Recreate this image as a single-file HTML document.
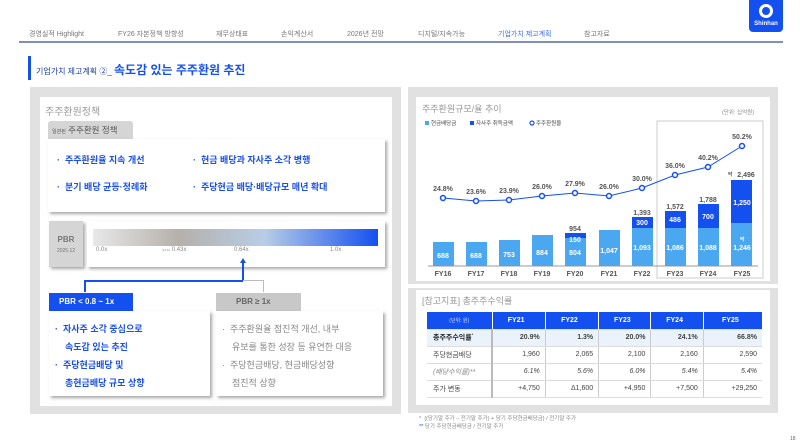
<!DOCTYPE html>
<html><head><meta charset="utf-8"><style>
*{margin:0;padding:0;box-sizing:border-box}
body{width:800px;height:445px;background:#fff;position:relative;overflow:hidden;font-family:"Liberation Sans","Noto Sans CJK KR",sans-serif}
.a{position:absolute}
.nav{font-size:7px;color:#777;top:29px;white-space:nowrap}
.sh{box-shadow:2px 2px 3px rgba(0,0,0,.35)}
.b{color:#1a4fe8;font-weight:bold;font-size:9px}
.g{color:#888;font-size:9px}
table{border-collapse:collapse;font-size:7px}
td{border-bottom:1px solid #ddd;border-right:1px solid #ccc;text-align:right;padding-right:5px;height:17px;color:#444}
td:first-child{text-align:left;padding-left:6px;border-right:2px solid #bbb}
td:last-child{border-right:none}
</style></head><body>
<div class="a nav" style="left:29px">경영실적 Highlight</div>
<div class="a nav" style="left:118px">FY26 자본정책 방향성</div>
<div class="a nav" style="left:216px">재무상태표</div>
<div class="a nav" style="left:281px">손익계산서</div>
<div class="a nav" style="left:347px">2026년 전망</div>
<div class="a nav" style="left:418px">디지털/지속가능</div>
<div class="a nav" style="left:498px;color:#3a6df0">기업가치 제고계획</div>
<div class="a nav" style="left:584px">참고자료</div>
<div class="a" style="left:19px;top:41px;width:764px;height:2px;background:#7f8fb8"></div>
<div class="a" style="left:749px;top:0;width:34px;height:32px;background:#1450f0;border-radius:0 0 4px 4px;color:#fff;font-size:6px;font-weight:bold;text-align:center;padding-top:21px">Shinhan<div class="a" style="left:10px;top:4px;width:14px;height:14px;border-radius:50%;border:3px solid #fff"></div></div>
<div class="a" style="left:28px;top:56px;width:3px;height:24px;background:#1450f0"></div>
<div class="a" style="left:36px;top:61px;font-size:8px;color:#1a3da8;white-space:nowrap">기업가치 제고계획 ②_ <span style="font-size:12px;font-weight:bold;color:#1450f0">속도감 있는 주주환원 추진</span></div>

<!-- left panel -->
<div class="a" style="left:30px;top:87px;width:371px;height:327px;background:#e1e1e1"></div>
<div class="a" style="left:40px;top:97px;width:352px;height:309px;background:#fff"></div>
<div class="a" style="left:45px;top:103px;font-size:10px;color:#999">주주환원정책</div>
<div class="a" style="left:48px;top:121px;width:85px;height:18px;background:#d5d5d5;border-radius:3px 3px 0 0;font-size:8.5px;color:#555;padding:3px 0 0 4px;white-space:nowrap"><span style="font-size:5px">일관된</span> 주주환원 정책</div>
<div class="a sh" style="left:48px;top:139px;width:337px;height:73px;background:#fff"></div>
<div class="a b" style="left:57px;top:153px">·&nbsp; 주주환원율 지속 개선</div>
<div class="a b" style="left:193px;top:153px">·&nbsp; 현금 배당과 자사주 소각 병행</div>
<div class="a b" style="left:57px;top:180px">·&nbsp; 분기 배당 균등·정례화</div>
<div class="a b" style="left:193px;top:180px">·&nbsp; 주당현금 배당·배당규모 매년 확대</div>

<div class="a sh" style="left:49px;top:221px;width:34px;height:46px;background:#d5d5d5;text-align:center;padding-top:14px;font-size:8px;font-weight:bold;color:#777">PBR<div style="font-size:5px;font-weight:normal;margin-top:4px">2025.12</div></div>
<div class="a sh" style="left:87px;top:221px;width:298px;height:46px;background:#fff"></div>
<div class="a" style="left:93px;top:229px;width:285px;height:17px;background:linear-gradient(90deg,#e8e8e8,#b5b0ab 30%,#b8cde6 60%,#1450f0)"></div>
<div class="a" style="left:96px;top:247px;font-size:6px;color:#888">0.0x</div>
<div class="a" style="left:162px;top:247px;font-size:6px;color:#888"><span style="font-size:3px">'24.12</span> 0.43x</div>
<div class="a" style="left:234px;top:247px;font-size:6px;color:#888">0.64x</div>
<div class="a" style="left:330px;top:247px;font-size:6px;color:#888">1.0x</div>
<div class="a" style="left:240px;top:258px;width:0;height:0;border-left:3px solid transparent;border-right:3px solid transparent;border-bottom:5px solid #1450f0"></div>
<div class="a" style="left:242px;top:262px;width:1.5px;height:19px;background:#1450f0"></div>
<div class="a" style="left:84px;top:280px;width:159px;height:1.5px;background:#1450f0"></div>
<div class="a" style="left:84px;top:280px;width:1.5px;height:12px;background:#1450f0"></div>
<div class="a" style="left:243px;top:280px;width:20px;height:1px;background:#bbb"></div>
<div class="a" style="left:263px;top:280px;width:1px;height:12px;background:#bbb"></div>
<div class="a" style="left:49px;top:293px;width:84px;height:18px;background:#1450f0;color:#fff;font-size:8px;font-weight:bold;padding:4px 0 0 10px">PBR &lt; 0.8 ~ 1x</div>
<div class="a" style="left:216px;top:293px;width:85px;height:18px;background:#c8c8c8;color:#666;font-size:8px;font-weight:bold;padding:4px 0 0 20px">PBR ≥ 1x</div>
<div class="a sh" style="left:49px;top:311px;width:161px;height:85px;background:#fff"></div>
<div class="a sh" style="left:216px;top:311px;width:167px;height:85px;background:#fff"></div>
<div class="a b" style="left:55px;top:320px;line-height:18px">·&nbsp; 자사주 소각 중심으로<br>&nbsp;&nbsp;&nbsp; 속도감 있는 추진<br>·&nbsp; 주당현금배당 및<br>&nbsp;&nbsp;&nbsp; 총현금배당 규모 상향</div>
<div class="a g" style="left:222px;top:320px;line-height:18px">·&nbsp; 주주환원율 점진적 개선, 내부<br>&nbsp;&nbsp;&nbsp; 유보를 통한 성장 등 유연한 대응<br>·&nbsp; 주당현금배당, 현금배당성향<br>&nbsp;&nbsp;&nbsp; 점진적 상향</div>

<!-- chart panel -->
<div class="a" style="left:408px;top:87px;width:370px;height:197px;background:#e1e1e1"></div>
<div class="a" style="left:416px;top:97px;width:354px;height:184px;background:#fff"></div>
<div class="a" style="left:422px;top:102px;font-size:9px;color:#999">주주환원규모/율 추이</div>
<div class="a" style="left:722px;top:108px;font-size:5.5px;color:#888">(단위: 십억원)</div>
<svg class="a" style="left:0;top:0" width="800" height="445">
<g font-size="5.5" fill="#444"><rect x="425" y="121" width="4" height="4" fill="#4ba8f0"/><text x="431" y="125">현금배당금</text>
<rect x="470" y="121" width="4" height="4" fill="#1450f0"/><text x="476" y="125">자사주 취득금액</text>
<circle cx="532" cy="123" r="2" fill="none" stroke="#1450f0" stroke-width="1.2"/><text x="536" y="125">주주환원율</text></g>
<rect x="657" y="121" width="106" height="157" fill="none" stroke="#ccc"/>
<line x1="428" y1="266" x2="758" y2="266" stroke="#999"/>
<g fill="#4ba8f0">
<rect x="433" y="242" width="21" height="24"/><rect x="466" y="242" width="21" height="24"/><rect x="499" y="240" width="21" height="26"/><rect x="532" y="235" width="21" height="31"/><rect x="565" y="238" width="21" height="28"/><rect x="599" y="230" width="21" height="36"/><rect x="632" y="228" width="21" height="38"/><rect x="665" y="228" width="21" height="38"/><rect x="698" y="228" width="21" height="38"/><rect x="731" y="223" width="21" height="43"/></g>
<g fill="#1450f0"><rect x="565" y="233" width="21" height="5"/><rect x="632" y="217" width="21" height="11"/><rect x="665" y="211" width="21" height="17"/><rect x="698" y="204" width="21" height="24"/><rect x="731" y="180" width="21" height="43"/></g>
<g fill="#fff" font-size="7" font-weight="bold" text-anchor="middle">
<text x="443" y="258">688</text><text x="476" y="258">688</text><text x="509" y="257">753</text><text x="542" y="255">884</text><text x="575" y="255">804</text><text x="609" y="253">1,047</text><text x="642" y="250">1,093</text><text x="675" y="250">1,086</text><text x="708" y="250">1,088</text><text x="742" y="250">1,246</text><text x="742" y="241" font-size="5">약</text>
<text x="575" y="242">150</text><text x="642" y="225">300</text><text x="675" y="222">486</text><text x="708" y="219">700</text><text x="742" y="205">1,250</text></g>
<g fill="#555" font-size="7" font-weight="bold" text-anchor="middle">
<text x="575" y="231">954</text><text x="642" y="215">1,393</text><text x="675" y="209">1,572</text><text x="708" y="202">1,788</text><text x="746" y="177">2,496</text><text x="730" y="176" font-size="5">약</text>
<text x="443" y="191">24.8%</text><text x="476" y="194">23.6%</text><text x="509" y="193">23.9%</text><text x="542" y="189">26.0%</text><text x="575" y="186">27.9%</text><text x="609" y="189">26.0%</text><text x="642" y="181">30.0%</text><text x="675" y="168">36.0%</text><text x="708" y="160">40.2%</text><text x="742" y="139">50.2%</text>
<text x="443" y="276">FY16</text><text x="476" y="276">FY17</text><text x="509" y="276">FY18</text><text x="542" y="276">FY19</text><text x="575" y="276">FY20</text><text x="609" y="276">FY21</text><text x="642" y="276">FY22</text><text x="675" y="276">FY23</text><text x="708" y="276">FY24</text><text x="742" y="276">FY25</text></g>
<polyline points="443,198 476,201 509,200 542,196 575,193 609,196 642,188 675,175 708,167 742,146" fill="none" stroke="#1450f0" stroke-width="1"/>
<g fill="#fff" stroke="#1450f0" stroke-width="1.5"><circle cx="443" cy="198" r="2.5"/><circle cx="476" cy="201" r="2.5"/><circle cx="509" cy="200" r="2.5"/><circle cx="542" cy="196" r="2.5"/><circle cx="575" cy="193" r="2.5"/><circle cx="609" cy="196" r="2.5"/><circle cx="642" cy="188" r="2.5"/><circle cx="675" cy="175" r="2.5"/><circle cx="708" cy="167" r="2.5"/><circle cx="742" cy="146" r="2.5"/></g>
</svg>

<!-- table panel -->
<div class="a" style="left:408px;top:288px;width:370px;height:125px;background:#e1e1e1"></div>
<div class="a" style="left:416px;top:290px;width:354px;height:115px;background:#fff"></div>
<div class="a" style="left:422px;top:294px;font-size:9px;color:#999">[참고지표] 총주주수익률</div>
<table class="a" style="left:427px;top:312px;width:335px;border-bottom:1.5px solid #4a7fe0">
<tr style="background:#1450f0"><td style="color:#cfe0ff;font-size:5px;text-align:center;width:65px;border-right:1px solid #fff;padding:0">(단위: 원)</td><td style="color:#fff;font-weight:bold;text-align:center;border-right:1px solid #fff">FY21</td><td style="color:#fff;font-weight:bold;text-align:center;border-right:1px solid #fff">FY22</td><td style="color:#fff;font-weight:bold;text-align:center;border-right:1px solid #fff">FY23</td><td style="color:#fff;font-weight:bold;text-align:center;border-right:1px solid #fff">FY24</td><td style="color:#fff;font-weight:bold;text-align:center">FY25</td></tr>
<tr style="background:#eaf3fb;font-weight:bold"><td style="color:#222">총주주수익률<sup style="font-size:4px">*</sup></td><td>20.9%</td><td>1.3%</td><td>20.0%</td><td>24.1%</td><td>66.8%</td></tr>
<tr><td>주당현금배당</td><td>1,960</td><td>2,065</td><td>2,100</td><td>2,160</td><td>2,590</td></tr>
<tr style="font-style:italic"><td style="color:#888">(배당수익률)**</td><td>6.1%</td><td>5.6%</td><td>6.0%</td><td>5.4%</td><td>5.4%</td></tr>
<tr><td>주가 변동</td><td>+4,750</td><td>Δ1,600</td><td>+4,950</td><td>+7,500</td><td>+29,250</td></tr>
</table>
<div class="a" style="left:419px;top:415px;font-size:5.5px;color:#888;line-height:8px">*&nbsp; {(당기말 주가 – 전기말 주가) + 당기 주당현금배당금} / 전기말 주가<br><span style="color:#1450f0">**</span> 당기 주당현금배당금 / 전기말 주가</div>
<div class="a" style="left:790px;top:436px;font-size:5px;color:#666">18</div>
</body></html>
